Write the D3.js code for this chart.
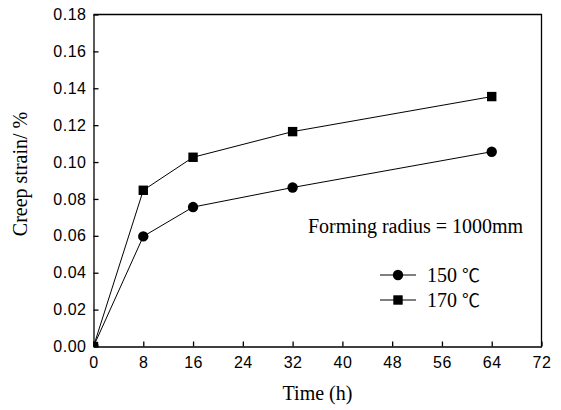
<!DOCTYPE html>
<html>
<head>
<meta charset="utf-8">
<script src="https://cdn.jsdelivr.net/npm/d3@7"></script>
<style>
	body{margin:0;background:#fff;}
	.tick text{font-family:"Liberation Sans",Arial,sans-serif;font-size:16px;letter-spacing:0.5px;fill:#000;}
	.serif{font-family:"Liberation Serif","DejaVu Serif",Times,serif;fill:#000;font-size:20px;}
	.deg{font-family:"Noto Sans CJK SC","DejaVu Serif",serif;font-size:18px;}
</style>
</head>
<body>
<div id="chart"></div>
<script>

//data
const hours = [0, 8, 16, 32, 64];
const strain150 = [0, 0.0597, 0.0756, 0.0862, 0.1056];
const strain170 = [0, 0.0847, 0.1026, 0.1165, 0.1355];
const xTicks = [0, 8, 16, 24, 32, 40, 48, 56, 64, 72];
const yTicks = [0, 0.02, 0.04, 0.06, 0.08, 0.10, 0.12, 0.14, 0.16, 0.18];

//sizing
let width = 561, height = 410;
let margin = {top:14.5, right:19.5, bottom:63.5, left:93.5};

let svg = d3.select("#chart")
	.append("svg")
	.attr("width", width)
	.attr("height", height);

const xScale = d3.scaleLinear()
	.domain([0,72])
	.range([margin.left, width-margin.right]);

const yScale = d3.scaleLinear()
	.domain([0,0.18])
	.range([height-margin.bottom, margin.top]);

//clip
svg.append("clipPath").attr("id","plotclip")
	.append("rect")
	.attr("x", margin.left).attr("y", margin.top)
	.attr("width", xScale(72)-xScale(0))
	.attr("height", yScale(0)-yScale(0.18));

//axes, ticks inward
const xAxis = d3.axisBottom(xScale).tickValues(xTicks).tickSize(-5).tickPadding(10).tickSizeOuter(0);
const yAxis = d3.axisLeft(yScale).tickValues(yTicks).tickSize(-5).tickPadding(7).tickSizeOuter(0)
	.tickFormat(d3.format(".2f"));

svg.append("g")
	.attr("transform", `translate(0,${yScale(0)})`)
	.call(xAxis)
	.call(g=>g.selectAll("line,path").attr("stroke","#000").attr("stroke-width",1.3));

svg.append("g")
	.attr("transform", `translate(${margin.left},0)`)
	.call(yAxis)
	.call(g=>g.selectAll("line,path").attr("stroke","#000").attr("stroke-width",1.3));

//frame top & right
svg.append("path")
	.attr("d", `M${xScale(0)},${yScale(0.18)}H${xScale(72)}V${yScale(0)}`)
	.attr("fill","none").attr("stroke","#000").attr("stroke-width",1.3);

//lines
const line = d3.line().x((d,i)=>xScale(hours[i])).y(d=>yScale(d));

const plot = svg.append("g").attr("clip-path","url(#plotclip)");

[strain150, strain170].forEach((s)=>{
	plot.append("path")
		.datum(s)
		.attr("d", line)
		.attr("fill","none")
		.attr("stroke","#000")
		.attr("stroke-width",1);
});

plot.selectAll(".dot")
	.data(strain150)
	.enter().append("circle")
	.attr("cx",(d,i)=>xScale(hours[i]))
	.attr("cy",d=>yScale(d))
	.attr("r",5.2);

plot.selectAll(".sq")
	.data(strain170)
	.enter().append("rect")
	.attr("x",(d,i)=>xScale(hours[i])-4.7)
	.attr("y",d=>yScale(d)-4.7)
	.attr("width",9.4).attr("height",9.4);

//titles
svg.append("text")
	.attr("class","serif")
	.attr("x", (xScale(0)+xScale(72))/2)
	.attr("y", 400)
	.attr("text-anchor","middle")
	.text("Time (h)");

svg.append("text")
	.attr("class","serif")
	.attr("transform","translate(27,174) rotate(-90)")
	.attr("text-anchor","middle")
	.text("Creep strain/ %");

svg.append("text")
	.attr("class","serif")
	.attr("x", 308)
	.attr("y", 233)
	.text("Forming radius = 1000mm");

//legend
const legend = [{temp:"150", shape:"circle"},{temp:"170", shape:"square"}];
const lg = svg.selectAll(".lg").data(legend).enter().append("g")
	.attr("transform",(d,i)=>`translate(380,${275+i*25})`);

lg.append("line").attr("x1",0).attr("x2",36).attr("stroke","#000").attr("stroke-width",1);
lg.filter(d=>d.shape==="circle").append("circle").attr("cx",18).attr("r",5.2);
lg.filter(d=>d.shape==="square").append("rect").attr("x",13.3).attr("y",-4.7).attr("width",9.4).attr("height",9.4);
const lt = lg.append("text").attr("class","serif")
	.attr("x",47).attr("y",7);
lt.append("tspan").text(d=>d.temp+" ");
lt.append("tspan").attr("class","deg").text("℃");

</script>
</body>
</html>
